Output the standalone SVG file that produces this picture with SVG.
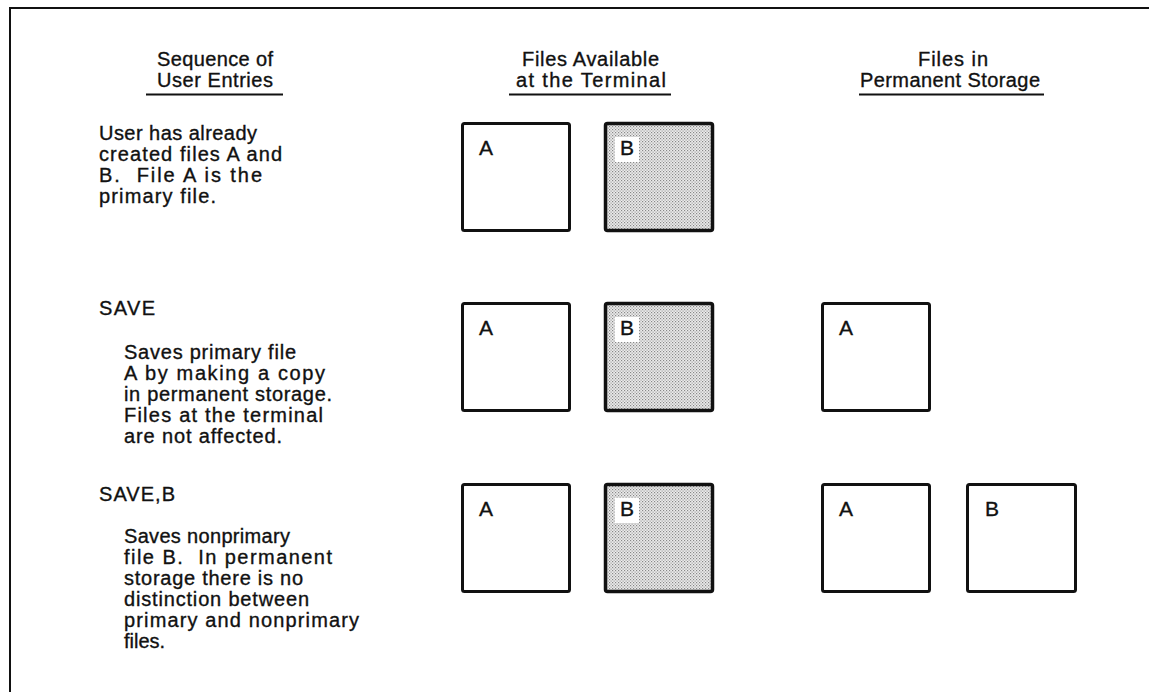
<svg xmlns="http://www.w3.org/2000/svg" width="1149" height="692" viewBox="0 0 1149 692">
<style>
text{font-family:"Liberation Sans",Arial,sans-serif;fill:#111;stroke:#111;stroke-width:0.35;white-space:pre}
.t{font-size:20px}
.lbl{font-size:21px}
.box{fill:#fff;stroke:#111;stroke-width:3}
.sh{fill:url(#dots);stroke:#111;stroke-width:3.5}
.ul{stroke:#111;stroke-width:2}
.frame{stroke:#111;stroke-width:2;fill:none}
</style>
<defs>
<pattern id="dots" width="3" height="3" patternUnits="userSpaceOnUse">
<rect width="3" height="3" fill="#ececec"/>
<rect x="0" y="0" width="1.2" height="1.2" fill="#888"/>
<rect x="1.5" y="1.5" width="1.2" height="1.2" fill="#999"/>
</pattern>
</defs>
<rect width="1149" height="692" fill="#fff"/>
<path class="frame" d="M10,692 V8 H1149"/>

<g id="headers">
<text class="t" x="157" y="66" textLength="116" lengthAdjust="spacing">Sequence of</text>
<text class="t" x="157" y="87" textLength="116" lengthAdjust="spacing">User Entries</text>
<line class="ul" x1="146" y1="94.5" x2="283" y2="94.5"/>
<text class="t" x="522" y="66" textLength="137" lengthAdjust="spacing">Files Available</text>
<text class="t" x="516" y="87" textLength="150" lengthAdjust="spacing">at the Terminal</text>
<line class="ul" x1="509" y1="94.5" x2="671" y2="94.5"/>
<text class="t" x="918" y="66" textLength="70" lengthAdjust="spacing">Files in</text>
<text class="t" x="860" y="87" textLength="180" lengthAdjust="spacing">Permanent Storage</text>
<line class="ul" x1="859" y1="94.5" x2="1044" y2="94.5"/>
</g>

<g id="entry1">
<text class="t" x="99" y="140" textLength="158" lengthAdjust="spacing">User has already</text>
<text class="t" x="99" y="161" textLength="183" lengthAdjust="spacing">created files A and</text>
<text class="t" x="99" y="182" textLength="163" lengthAdjust="spacing">B.  File A is the</text>
<text class="t" x="99" y="203" textLength="117" lengthAdjust="spacing">primary file.</text>
</g>

<g id="entry2">
<text class="t" x="99" y="315" textLength="56" lengthAdjust="spacing">SAVE</text>
<text class="t" x="124" y="359" textLength="172" lengthAdjust="spacing">Saves primary file</text>
<text class="t" x="124" y="380" textLength="201" lengthAdjust="spacing">A by making a copy</text>
<text class="t" x="124" y="401" textLength="208" lengthAdjust="spacing">in permanent storage.</text>
<text class="t" x="124" y="422" textLength="199" lengthAdjust="spacing">Files at the terminal</text>
<text class="t" x="124" y="443" textLength="158" lengthAdjust="spacing">are not affected.</text>
</g>

<g id="entry3">
<text class="t" x="99" y="501" textLength="76" lengthAdjust="spacing">SAVE,B</text>
<text class="t" x="124" y="543" textLength="166" lengthAdjust="spacing">Saves nonprimary</text>
<text class="t" x="124" y="564" textLength="208" lengthAdjust="spacing">file B.  In permanent</text>
<text class="t" x="124" y="585" textLength="179" lengthAdjust="spacing">storage there is no</text>
<text class="t" x="124" y="606" textLength="185" lengthAdjust="spacing">distinction between</text>
<text class="t" x="124" y="627" textLength="235" lengthAdjust="spacing">primary and nonprimary</text>
<text class="t" x="124" y="648" textLength="41" lengthAdjust="spacing">files.</text>
</g>

<g id="r1-termA"><rect class="box" x="462.5" y="123.5" width="107" height="107" rx="2"/><text class="lbl" x="479" y="155">A</text></g>
<g id="r1-termB"><rect class="sh" x="605.5" y="123.5" width="107" height="107" rx="2"/><rect x="615" y="137" width="24" height="25" fill="#fff"/><text class="lbl" x="620" y="155">B</text></g>

<g id="r2-termA"><rect class="box" x="462.5" y="303.5" width="107" height="107" rx="2"/><text class="lbl" x="479" y="335">A</text></g>
<g id="r2-termB"><rect class="sh" x="605.5" y="303.5" width="107" height="107" rx="2"/><rect x="615" y="317" width="24" height="25" fill="#fff"/><text class="lbl" x="620" y="335">B</text></g>
<g id="r2-permA"><rect class="box" x="822.5" y="303.5" width="107" height="107" rx="2"/><text class="lbl" x="839" y="335">A</text></g>

<g id="r3-termA"><rect class="box" x="462.5" y="484.5" width="107" height="107" rx="2"/><text class="lbl" x="479" y="516">A</text></g>
<g id="r3-termB"><rect class="sh" x="605.5" y="484.5" width="107" height="107" rx="2"/><rect x="615" y="498" width="24" height="25" fill="#fff"/><text class="lbl" x="620" y="516">B</text></g>
<g id="r3-permA"><rect class="box" x="822.5" y="484.5" width="107" height="107" rx="2"/><text class="lbl" x="839" y="516">A</text></g>
<g id="r3-permB"><rect class="box" x="967.5" y="484.5" width="108" height="107" rx="2"/><text class="lbl" x="985" y="516">B</text></g>

<g id="connectors"></g>
</svg>
